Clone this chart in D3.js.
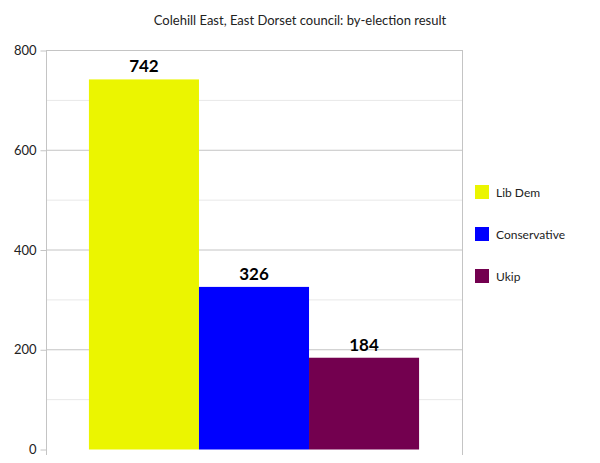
<!DOCTYPE html>
<html><head><meta charset="utf-8">
<script src="https://cdn.jsdelivr.net/npm/d3@7"></script>
<style>body{margin:0;background:#fff;font-family:Lato,"Open Sans",sans-serif;}</style>
</head><body><div id="chart"></div>
<script>
const parties = ["Lib Dem", "Conservative", "Ukip"];
const votes = [742, 326, 184];
const colors = ["#ebf500", "#0000ff", "#73004f"];
const yTicks = [0, 200, 400, 600, 800];

const svg = d3.select("#chart").append("svg").attr("width", 600).attr("height", 463);

const x = d3.scaleBand().domain(parties).range([46, 462]).paddingInner(0).paddingOuter(0.39);
const y = d3.scaleLinear().domain([0, 800]).range([449.5, 50.5]);

// grid
svg.append("g").selectAll("line").data(d3.range(100, 801, 100)).join("line")
    .attr("x1", 46).attr("x2", 462)
    .attr("y1", d => y(d)).attr("y2", d => y(d))
    .attr("stroke", d => d % 200 === 0 ? "#c4c4c4" : "#e8e8e8");

svg.append("line").attr("x1", 462.5).attr("x2", 462.5).attr("y1", 50).attr("y2", 455).attr("stroke", "#c4c4c4");

const ax = svg.append("g").attr("transform", "translate(46.5,0)")
    .call(d3.axisLeft(y).tickValues(yTicks).tickSize(6).tickPadding(4));
ax.select(".domain").attr("stroke", "#c4c4c4").attr("d", "M0,50V455");
ax.selectAll(".tick line").attr("stroke", "#c4c4c4");
ax.selectAll("text").attr("font-size", 13).attr("fill", "#222").attr("font-family", "Lato,sans-serif");

svg.append("g").selectAll("rect").data(parties).join("rect")
    .attr("x", d => x(d)).attr("width", x.bandwidth())
    .attr("y", (d, i) => y(votes[i])).attr("height", (d, i) => y(0) - y(votes[i]))
    .attr("fill", (d, i) => colors[i]);

svg.append("g").selectAll("text").data(parties).join("text")
    .attr("x", d => x(d) + x.bandwidth() / 2).attr("y", (d, i) => y(votes[i]) - 7)
    .attr("text-anchor", "middle").attr("font-size", 17).attr("font-weight", "bold")
    .text((d, i) => votes[i]);

svg.append("text").attr("x", 300).attr("y", 25).attr("text-anchor", "middle")
    .attr("font-size", 13).attr("fill", "#222")
    .text("Colehill East, East Dorset council: by-election result");

const lg = svg.append("g").selectAll("g").data(parties).join("g")
    .attr("transform", (d, i) => `translate(475,${185 + i * 42})`);
lg.append("rect").attr("width", 14).attr("height", 14).attr("fill", (d, i) => colors[i]);
lg.append("text").attr("x", 21).attr("y", 12).attr("font-size", 12).attr("fill", "#222").text(d => d);
</script></body></html>
